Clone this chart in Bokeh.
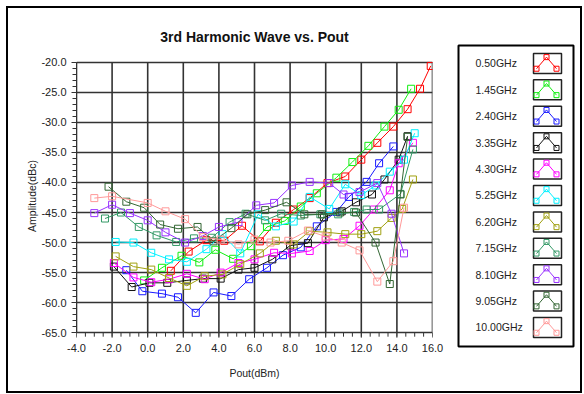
import math
from bokeh.plotting import figure
from bokeh.layouts import row
from bokeh.models import Range1d, FixedTicker, PrintfTickFormatter
from bokeh.embed import file_html
from bokeh.resources import INLINE
from bokeh.core.properties import value

# ---------------- data ----------------
series_names = ["0.50GHz", "1.45GHz", "2.40GHz", "3.35GHz", "4.30GHz", "5.25GHz",
                "6.20GHz", "7.15GHz", "8.10GHz", "9.05GHz", "10.00GHz"]
series_colors = ["#FF0000", "#11EE11", "#1A1AFF", "#111111", "#FF00FF", "#00F0FF",
                 "#A0A010", "#339966", "#9933FF", "#336633", "#FF9999"]

x_050 = [1.3, 2.3, 3.3, 4.3, 5.3, 6.3, 7.2, 8.2, 9.1, 10.1, 11.1, 12.0, 12.9, 13.8, 14.6, 15.3, 15.9]
y_050 = [-54.7, -51.5, -49.6, -49.7, -47.2, -49.8, -46.7, -44.5, -42.6, -40.1, -39.0, -36.2, -33.4, -30.7, -27.8, -24.4, -20.6]

x_145 = [-0.2, 0.8, 1.9, 2.9, 3.8, 4.8, 5.8, 6.7, 7.7, 8.6, 9.5, 10.6, 11.5, 12.4, 13.3, 14.1, 14.8]
y_145 = [-56.3, -54.2, -52.2, -53.3, -51.2, -52.7, -50.6, -47.4, -46.4, -44.0, -41.8, -39.2, -36.6, -33.9, -30.7, -27.9, -24.4]

x_240 = [-1.2, -0.3, 0.8, 1.7, 2.7, 3.7, 4.7, 5.7, 6.7, 7.6, 8.6, 9.5, 10.6, 11.3, 12.3, 13.0, 13.8]
y_240 = [-54.6, -58.1, -58.5, -59.1, -61.7, -58.3, -58.9, -56.1, -54.2, -52.1, -50.8, -47.3, -44.9, -42.4, -39.9, -36.8, -34.0]

x_335 = [-1.9, -0.9, 0.1, 1.1, 2.2, 3.1, 4.1, 5.1, 6.0, 7.0, 8.0, 9.0, 9.9, 10.9, 11.7, 12.6, 13.3, 14.1, 14.6]
y_335 = [-54.0, -57.4, -56.7, -56.7, -56.3, -56.0, -56.0, -54.5, -54.2, -52.8, -50.5, -50.1, -45.8, -44.8, -43.3, -42.0, -39.5, -36.2, -32.3]

x_430 = [-1.9, -0.8, 0.2, 1.2, 2.2, 3.2, 4.1, 5.1, 6.0, 7.1, 8.1, 9.1, 10.0, 11.0, 11.9, 12.7, 13.6, 14.1, 14.9]
y_430 = [-53.4, -55.8, -56.6, -56.1, -55.2, -56.1, -55.0, -53.4, -52.8, -51.7, -51.8, -51.4, -49.6, -49.4, -47.2, -44.5, -41.3, -36.8, -33.4]

x_525 = [-1.8, -0.8, 0.2, 1.2, 2.2, 3.3, 4.2, 5.2, 6.2, 7.2, 8.2, 9.1, 10.2, 11.1, 12.0, 12.8, 13.6, 14.4, 15.0]
y_525 = [-49.9, -50.0, -51.7, -52.8, -53.2, -51.1, -48.6, -51.8, -45.3, -47.3, -46.5, -42.4, -44.4, -40.3, -42.1, -40.5, -38.2, -36.2, -31.8]

x_620 = [-1.8, -0.8, 0.2, 1.2, 2.2, 3.2, 4.2, 5.2, 6.3, 7.2, 8.2, 9.1, 10.1, 11.1, 12.0, 12.9, 13.7, 14.3, 14.9]
y_620 = [-52.3, -54.0, -54.5, -55.9, -57.2, -55.6, -55.3, -53.6, -51.8, -49.7, -50.3, -48.1, -48.3, -48.6, -48.6, -48.1, -45.9, -44.4, -39.5]

x_715 = [-2.4, -1.5, -0.5, 0.5, 1.6, 2.6, 3.6, 4.6, 5.5, 6.6, 7.5, 8.6, 9.7, 10.7, 11.6, 12.3, 13.0, 14.2, 14.9]
y_715 = [-46.0, -45.0, -47.4, -48.8, -49.9, -49.3, -49.2, -46.6, -45.2, -46.3, -45.2, -45.5, -45.3, -45.3, -44.9, -44.5, -44.5, -41.9, -34.5]

x_810 = [-3.0, -2.0, -1.0, 0.0, 1.0, 2.1, 3.1, 4.0, 5.1, 6.1, 7.1, 8.1, 9.1, 10.2, 11.0, 11.9, 12.9, 13.7, 14.4]
y_810 = [-45.1, -43.7, -45.1, -46.3, -48.3, -50.0, -48.9, -47.4, -46.6, -43.8, -43.4, -40.5, -39.9, -40.1, -42.0, -41.6, -40.1, -45.2, -51.8]

x_905 = [-2.2, -1.2, -0.2, 0.7, 1.7, 2.8, 3.7, 4.7, 5.6, 6.6, 7.8, 8.8, 9.8, 10.8, 11.7, 12.8, 13.6, 14.2, 14.6]
y_905 = [-40.7, -43.2, -44.2, -47.0, -47.7, -47.4, -49.8, -47.6, -45.3, -44.6, -43.3, -45.3, -45.3, -45.0, -45.0, -50.0, -56.9, -42.0, -32.4]

x_1000 = [-3.0, -2.0, 0.0, 1.0, 2.1, 3.1, 4.1, 5.1, 6.0, 6.9, 7.9, 9.0, 10.0, 10.9, 11.9, 12.9, 13.8, 14.4]
y_1000 = [-42.6, -42.3, -43.4, -44.8, -46.1, -49.1, -49.5, -50.3, -49.5, -50.0, -49.7, -48.0, -49.0, -50.0, -51.3, -56.5, -53.1, -44.2]

series_x = [x_050, x_145, x_240, x_335, x_430, x_525, x_620, x_715, x_810, x_905, x_1000]
series_y = [y_050, y_145, y_240, y_335, y_430, y_525, y_620, y_715, y_810, y_905, y_1000]

x_ticks = [-4, -2, 0, 2, 4, 6, 8, 10, 12, 14, 16]
y_ticks = [-20, -25, -30, -35, -40, -45, -50, -55, -60, -65]
x_minor = [-4 + 0.5 * k for k in range(41)]
y_minor = [-65 + k for k in range(46)]

FONT = "Liberation Sans"
TXT = "#222222"
GRID = "#333333"

# shared vertical frame geometry (legend box and chart frame are aligned in the row)
TOP_BORDER = 37
BOTTOM_BORDER = 45
FIG_H = 383

# ---------------- main chart ----------------
p = figure(width=440, height=FIG_H, output_backend="svg", toolbar_location=None,
           x_range=Range1d(x_ticks[0], x_ticks[-1]), y_range=Range1d(-67.3, -17.2),
           min_border_left=68, min_border_right=16,
           min_border_top=TOP_BORDER, min_border_bottom=BOTTOM_BORDER,
           title="3rd Harmonic Wave vs. Pout")
p.background_fill_color = "white"
p.border_fill_color = "white"
p.outline_line_color = None

p.title.align = "center"
p.title.text_font = FONT
p.title.text_font_size = "14px"
p.title.text_font_style = "bold"
p.title.text_color = "#111111"
p.title.standoff = 1

p.xaxis.ticker = FixedTicker(ticks=x_ticks, minor_ticks=x_minor)
p.yaxis.ticker = FixedTicker(ticks=y_ticks, minor_ticks=y_minor)
p.xaxis.formatter = PrintfTickFormatter(format="%.1f")
p.yaxis.formatter = PrintfTickFormatter(format="%.1f")
p.yaxis.bounds = (y_ticks[-1], y_ticks[0])
p.xaxis.axis_label = "Pout(dBm)"
p.yaxis.axis_label = "Amplitude(dBc)"
for ax in (p.xaxis, p.yaxis):
    ax.axis_label_text_font = FONT
    ax.axis_label_text_font_size = "10.5px"
    ax.axis_label_text_font_style = "normal"
    ax.axis_label_text_color = TXT
    ax.major_label_text_font = FONT
    ax.major_label_text_font_size = "11px"
    ax.major_label_text_color = TXT
    ax.axis_line_color = GRID
    ax.major_tick_line_color = GRID
    ax.minor_tick_line_color = GRID
    ax.major_tick_in = 0
    ax.major_tick_out = 5
    ax.minor_tick_in = 0
    ax.minor_tick_out = 4
p.yaxis.major_label_standoff = 5
p.yaxis.axis_label_standoff = 0

# x axis sits on the -65 line: its own line/ticks hidden, labels lifted to that line
p.xaxis.axis_line_color = None
p.xaxis.major_tick_line_color = None
p.xaxis.minor_tick_line_color = None
p.xaxis.major_tick_out = 0
p.xaxis.minor_tick_out = 0
p.xaxis.major_label_standoff = -3
p.xaxis.axis_label_standoff = 12

# horizontal grid from the y ticker; vertical grid lines limited to the value range
p.xgrid.visible = False
p.ygrid.grid_line_color = GRID
p.ygrid.grid_line_width = 1.6
p.segment(x0=x_ticks, y0=[y_ticks[-1]] * len(x_ticks), x1=x_ticks, y1=[y_ticks[0]] * len(x_ticks),
          line_color=GRID, line_width=1.6)
# x tick marks hanging below the -65 line
p.ray(x=x_minor, y=[y_ticks[-1]] * len(x_minor), length=4, length_units="screen",
      angle=-math.pi / 2, line_color=GRID, line_width=1)
p.ray(x=x_ticks, y=[y_ticks[-1]] * len(x_ticks), length=5, length_units="screen",
      angle=-math.pi / 2, line_color=GRID, line_width=1)

for xs, ys, c in zip(series_x, series_y, series_colors):
    p.line(xs, ys, line_color=c, line_width=1)
    p.scatter(xs, ys, marker="square", size=7, fill_color="white", fill_alpha=0.0,
              line_color=c, line_width=1)

# ---------------- legend panel ----------------
n = len(series_names)
rows = list(range(n))
lg = figure(width=132, height=FIG_H, output_backend="svg", toolbar_location=None,
            x_range=Range1d(0, 115), y_range=Range1d(n - 0.28, -0.68),
            min_border_left=10, min_border_right=7,
            min_border_top=TOP_BORDER, min_border_bottom=BOTTOM_BORDER)
lg.axis.visible = False
lg.grid.visible = False
lg.outline_line_color = "black"
lg.outline_line_width = 2
lg.border_fill_color = "white"
lg.background_fill_color = "white"

lg.text(x=[17] * n, y=rows, text=series_names, text_baseline="middle", text_align="left",
        text_font=value(FONT), text_font_size="10.5px", text_color=TXT)
lg.rect(x=[89] * n, y=rows, width=28, height=20, width_units="screen", height_units="screen",
        fill_color="white", line_color="#222222", line_width=1.5)
sw_dx = [-11, -1, 9]
sw_dy = [0.2, -0.24, 0.2]
lg.multi_line(xs=[[89 + d for d in sw_dx] for _ in rows],
              ys=[[r + d for d in sw_dy] for r in rows],
              line_color=series_colors, line_width=1)
for r, c in zip(rows, series_colors):
    lg.scatter([89 + d for d in sw_dx], [r + d for d in sw_dy], marker="square", size=5,
               fill_alpha=0.0, line_color=c, line_width=1)

layout = row(p, lg, styles={"border": "2px solid black", "background": "white",
                            "margin": "6px 0 0 6px"})

open("out.html", "w").write(file_html(layout, INLINE))
